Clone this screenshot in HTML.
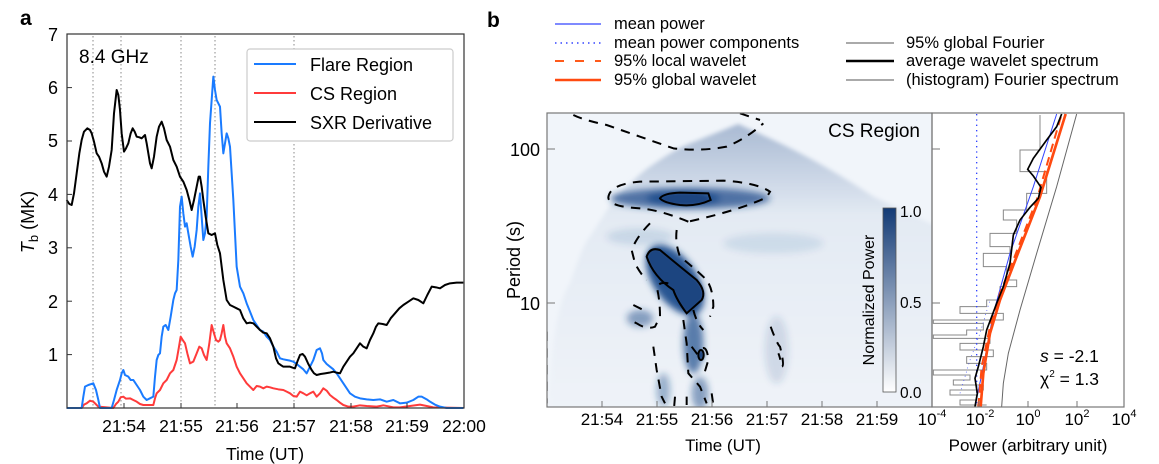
<!DOCTYPE html>
<html><head><meta charset="utf-8"><style>
body{margin:0;background:#fff}
svg{display:block;font-family:"Liberation Sans",Arial,sans-serif}
</style></head><body>
<svg width="1159" height="464" viewBox="0 0 1159 464" xmlns="http://www.w3.org/2000/svg">
<defs>
<filter id="bl" x="-50%" y="-50%" width="200%" height="200%"><feGaussianBlur stdDeviation="10"/></filter>
<filter id="bl2" x="-50%" y="-50%" width="200%" height="200%"><feGaussianBlur stdDeviation="4"/></filter>
<filter id="bl3" x="-20%" y="-20%" width="140%" height="140%"><feGaussianBlur stdDeviation="6"/></filter>
<linearGradient id="cb" x1="0" y1="0" x2="0" y2="1"><stop offset="0" stop-color="#123a75"/><stop offset="1" stop-color="#ffffff"/></linearGradient>
<linearGradient id="cone" x1="0" y1="0" x2="0" y2="1"><stop offset="0" stop-color="#a9bad3"/><stop offset="0.3" stop-color="#e3eaf3"/><stop offset="1" stop-color="#f0f4f9"/></linearGradient>
<clipPath id="wc"><rect x="547" y="113" width="385" height="294"/></clipPath>
<clipPath id="pc"><rect x="932" y="113" width="192" height="294"/></clipPath>
</defs>

<!-- ============ Panel a ============ -->
<text x="20" y="25" font-size="21" font-weight="bold">a</text>
<g stroke="#888" stroke-width="1" stroke-dasharray="1.5,2.5">
<line x1="93" y1="36" x2="93" y2="408"/><line x1="121" y1="36" x2="121" y2="408"/>
<line x1="181" y1="36" x2="181" y2="408"/><line x1="215" y1="36" x2="215" y2="408"/>
<line x1="294" y1="36" x2="294" y2="408"/>
</g>
<g transform="scale(0.33333)" fill="none" stroke-width="6" stroke-linejoin="round">
<polyline stroke="#ff3b3b" points="200,1224 245,1224 252,1214 260,1210 270,1202 280,1205 287,1212 295,1220 340,1224 348,1212 355,1205 362,1192 370,1190 378,1196 390,1195 400,1200 410,1205 420,1212 430,1215 460,1215 465,1195 470,1180 480,1170 490,1150 500,1140 510,1120 520,1110 530,1080 537,1040 542,1010 548,1020 555,1030 562,1060 570,1090 580,1085 590,1060 598,1040 605,1045 612,1065 620,1080 628,1030 635,975 642,1000 648,1020 655,1025 660,1020 665,1000 670,975 675,1010 680,1030 690,1045 700,1070 710,1100 720,1120 730,1135 740,1150 750,1160 760,1170 770,1158 780,1160 790,1165 800,1160 810,1162 820,1165 835,1168 850,1170 860,1175 870,1180 880,1188 890,1190 900,1175 910,1180 920,1186 930,1180 940,1175 950,1190 960,1180 970,1165 980,1172 990,1185 1000,1193 1010,1200 1020,1208 1030,1215 1045,1220 1060,1220 1080,1216 1100,1218 1130,1220 1150,1216 1180,1222 1200,1222 1230,1218 1260,1214 1280,1218 1300,1222 1390,1224"/>
<polyline stroke="#1a7bff" points="200,1224 245,1224 250,1190 255,1160 265,1155 280,1150 288,1170 295,1200 300,1224 335,1224 342,1200 350,1170 360,1140 365,1120 370,1110 375,1125 385,1130 392,1140 400,1140 410,1155 420,1170 430,1190 440,1200 450,1195 460,1190 465,1130 470,1080 475,1065 480,1060 485,1010 490,980 497,975 505,990 512,950 520,900 525,880 530,870 535,780 540,620 545,590 550,640 555,680 560,670 565,700 572,740 578,770 584,740 590,690 595,620 600,580 605,650 610,720 615,700 620,650 625,500 630,370 635,300 640,230 645,270 650,300 655,310 660,320 665,400 670,460 675,430 680,400 685,415 690,440 695,520 700,600 705,700 710,800 715,830 720,860 730,880 740,910 750,935 760,960 770,975 780,990 790,995 800,1010 810,1020 820,1040 830,1055 840,1075 850,1078 860,1080 870,1082 880,1085 890,1092 900,1100 910,1108 920,1120 930,1100 940,1080 950,1050 960,1045 966,1060 970,1080 980,1092 990,1100 1000,1108 1010,1120 1020,1135 1030,1150 1040,1165 1050,1180 1065,1190 1080,1195 1100,1198 1120,1200 1140,1198 1160,1205 1180,1200 1200,1210 1220,1208 1240,1200 1255,1190 1265,1190 1280,1198 1290,1205 1305,1214 1320,1220 1340,1224 1390,1224"/>
<polyline stroke="#000" points="200,600 208,612 215,615 222,580 230,520 238,460 245,420 252,395 262,385 270,390 275,400 282,425 290,460 297,470 305,490 312,515 320,530 327,500 335,450 342,340 350,270 355,285 360,330 365,400 372,455 378,445 385,430 392,400 398,385 404,395 410,410 418,412 425,415 430,410 435,405 440,430 445,460 450,490 455,505 462,470 470,410 477,380 485,365 492,385 500,420 510,440 520,480 530,500 540,530 550,545 560,570 568,600 575,630 582,600 590,560 596,530 600,530 605,560 610,600 617,650 625,700 635,705 645,700 652,735 660,760 670,840 680,900 690,915 700,920 710,925 720,930 730,955 740,970 750,968 760,970 770,980 780,990 790,998 800,1000 810,1015 820,1040 828,1075 835,1090 842,1095 850,1100 860,1100 870,1100 878,1103 885,1105 892,1085 900,1065 908,1062 915,1070 925,1092 935,1110 942,1120 950,1125 962,1122 975,1120 988,1118 1000,1115 1010,1118 1020,1120 1030,1100 1040,1085 1050,1070 1060,1060 1070,1045 1080,1030 1090,1040 1100,1045 1110,1020 1120,1000 1128,980 1135,970 1148,972 1160,975 1172,955 1185,940 1198,925 1210,915 1225,905 1240,895 1255,900 1270,910 1282,885 1295,860 1308,862 1320,865 1335,855 1350,850 1370,848 1390,848"/>
</g>
<rect x="67" y="34" width="397" height="374" fill="none" stroke="#333" stroke-width="1.2"/>
<g stroke="#333" stroke-width="1">
<line x1="67" y1="354.6" x2="72" y2="354.6"/><line x1="67" y1="301.2" x2="72" y2="301.2"/><line x1="67" y1="247.8" x2="72" y2="247.8"/><line x1="67" y1="194.4" x2="72" y2="194.4"/><line x1="67" y1="141" x2="72" y2="141"/><line x1="67" y1="87.6" x2="72" y2="87.6"/>
<line x1="124" y1="408" x2="124" y2="403"/><line x1="181" y1="408" x2="181" y2="403"/><line x1="237" y1="408" x2="237" y2="403"/><line x1="294" y1="408" x2="294" y2="403"/><line x1="351" y1="408" x2="351" y2="403"/><line x1="407" y1="408" x2="407" y2="403"/>
</g>
<g font-size="18" text-anchor="end">
<text x="58" y="361">1</text><text x="58" y="308">2</text><text x="58" y="254">3</text><text x="58" y="201">4</text><text x="58" y="147">5</text><text x="58" y="94">6</text><text x="58" y="41">7</text>
</g>
<g font-size="17.5" text-anchor="middle">
<text x="124" y="432">21:54</text><text x="181" y="432">21:55</text><text x="237" y="432">21:56</text><text x="294" y="432">21:57</text><text x="351" y="432">21:58</text><text x="407" y="432">21:59</text><text x="464" y="432">22:00</text>
<text x="265" y="460">Time (UT)</text>
</g>
<text transform="translate(34,222) rotate(-90)" font-size="18" text-anchor="middle"><tspan font-style="italic">T</tspan><tspan font-size="13" dy="4">b</tspan><tspan dy="-4"> (MK)</tspan></text>
<text x="79" y="63" font-size="19">8.4 GHz</text>
<rect x="247" y="49" width="206" height="92" rx="3" fill="#fff" stroke="#ccc" stroke-width="1.2"/>
<line x1="254" y1="64" x2="296" y2="64" stroke="#1a7bff" stroke-width="2"/>
<line x1="254" y1="93" x2="296" y2="93" stroke="#ff3b3b" stroke-width="2"/>
<line x1="254" y1="122" x2="296" y2="122" stroke="#000" stroke-width="2"/>
<g font-size="18"><text x="310" y="71">Flare Region</text><text x="310" y="100">CS Region</text><text x="310" y="129">SXR Derivative</text></g>

<!-- ============ Panel b ============ -->
<text x="487" y="27" font-size="21" font-weight="bold">b</text>
<g font-size="16.5">
<line x1="555" y1="24" x2="601" y2="24" stroke="#3344ff" stroke-width="1.3"/><text x="614" y="29">mean power</text>
<line x1="555" y1="43" x2="601" y2="43" stroke="#3344ff" stroke-width="1.5" stroke-dasharray="1.5,4"/><text x="614" y="48">mean power components</text>
<line x1="555" y1="61" x2="601" y2="61" stroke="#ff5a1a" stroke-width="2" stroke-dasharray="9,11"/><text x="614" y="66">95% local wavelet</text>
<line x1="555" y1="80" x2="601" y2="80" stroke="#ff4a10" stroke-width="2.5"/><text x="614" y="85">95% global wavelet</text>
<line x1="846" y1="43" x2="894" y2="43" stroke="#777" stroke-width="1.3"/><text x="906" y="48">95% global Fourier</text>
<line x1="846" y1="61" x2="894" y2="61" stroke="#000" stroke-width="2.5"/><text x="906" y="66">average wavelet spectrum</text>
<line x1="846" y1="80" x2="894" y2="80" stroke="#777" stroke-width="1.3"/><text x="906" y="85">(histogram) Fourier spectrum</text>
</g>

<!-- wavelet -->
<rect x="547" y="113" width="385" height="294" fill="#f1f5fa"/>
<g clip-path="url(#wc)">
<g transform="translate(540,110) scale(0.33333)">
<path filter="url(#bl3)" d="M20,950 L40,700 Q60,560 90,520 Q130,400 150,380 Q200,300 230,260 Q300,190 330,170 Q400,120 450,100 L595,42 L700,90 Q850,160 1000,260 L1300,400 L1300,950 Z" fill="url(#cone)"/>
<g filter="url(#bl)" fill="#1f4d8c">
<ellipse cx="450" cy="265" rx="240" ry="32" opacity="0.75"/>
<ellipse cx="430" cy="265" rx="110" ry="22" opacity="0.9"/>
<ellipse cx="405" cy="510" rx="65" ry="120" transform="rotate(-35 405 510)" opacity="0.95"/>
<ellipse cx="300" cy="625" rx="40" ry="25" opacity="0.5"/>
<ellipse cx="460" cy="700" rx="30" ry="90" opacity="0.7"/>
<ellipse cx="480" cy="850" rx="25" ry="50" opacity="0.5"/>
<ellipse cx="370" cy="840" rx="20" ry="50" opacity="0.4"/>
<ellipse cx="300" cy="380" rx="100" ry="25" opacity="0.12"/>
<ellipse cx="700" cy="400" rx="150" ry="30" opacity="0.1"/>
<ellipse cx="710" cy="720" rx="35" ry="100" opacity="0.15"/>
</g>
<g filter="url(#bl2)" fill="#1a4480">
<ellipse cx="435" cy="267" rx="70" ry="17"/>
<path d="M320,440 Q330,410 360,420 Q420,470 470,510 Q500,545 485,570 L440,610 Q410,570 400,540 Q340,500 320,440Z"/>
<ellipse cx="483" cy="735" rx="9" ry="15"/>
</g>
<g fill="none" stroke="#000" stroke-width="6" stroke-dasharray="28,22">
<path d="M100,15 Q130,30 200,45 L300,80 L400,115 Q480,125 560,110 Q620,85 670,40"/>
<path d="M600,10 L660,30"/>
<path d="M445,335 Q360,300 300,295 Q205,290 205,262 Q210,222 300,215 L550,212 Q650,218 690,245 L680,262 Q600,300 445,335"/>
<path d="M330,340 Q290,380 275,420 L285,460 Q300,490 320,510"/>
<path d="M410,360 Q405,400 420,440 Q470,480 500,510 Q520,540 520,590 L510,620"/>
<path d="M385,520 Q360,515 350,530 Q360,570 360,620 L345,650 Q320,660 290,640 L270,630"/>
<path d="M280,585 L310,600"/>
<path d="M460,600 Q470,640 490,660"/>
<path d="M430,630 L440,700 L445,790 L480,830 L500,880"/>
<path d="M340,710 L350,780 L365,860 L375,880"/>
<path d="M455,710 L470,730 Q500,690 505,750 L490,800"/>
<path d="M405,860 L402,895 M440,860 L440,885 M515,850 L520,885"/>
<path d="M692,650 Q710,700 720,710 Q735,770 725,770 Q720,740 715,730"/>
<path d="M20,665 L20,880"/>
</g>
<g fill="none" stroke="#000" stroke-width="6">
<path d="M360,265 Q370,250 420,248 L505,250 L512,270 Q470,290 420,285 Q370,278 360,265Z"/>
<path d="M320,440 Q330,410 360,420 Q420,470 470,510 Q500,545 485,570 L440,610 Q410,570 400,540 Q340,500 320,440Z"/>
<ellipse cx="483" cy="735" rx="8" ry="15"/>
</g>
</g>
</g>
<rect x="547" y="113" width="385" height="294" fill="none" stroke="#777" stroke-width="1.2"/>
<g stroke="#777" stroke-width="1">
<line x1="602" y1="407" x2="602" y2="401"/><line x1="657" y1="407" x2="657" y2="401"/><line x1="712" y1="407" x2="712" y2="401"/><line x1="767" y1="407" x2="767" y2="401"/><line x1="822" y1="407" x2="822" y2="401"/><line x1="877" y1="407" x2="877" y2="401"/>
<line x1="547" y1="149" x2="555" y2="149"/><line x1="547" y1="303" x2="555" y2="303"/>
<line x1="932" y1="149" x2="940" y2="149"/><line x1="932" y1="303" x2="940" y2="303"/>
</g>
<text x="920" y="137" font-size="19" text-anchor="end">CS Region</text>
<rect x="883" y="208" width="13" height="184" fill="url(#cb)" stroke="#555" stroke-width="0.8"/>
<g font-size="15.5"><text x="900" y="217">1.0</text><text x="900" y="308">0.5</text><text x="900" y="398">0.0</text></g>
<text transform="translate(874,300) rotate(-90)" font-size="16" text-anchor="middle">Normalized Power</text>
<g font-size="18" text-anchor="end"><text x="540" y="156">100</text><text x="540" y="310">10</text></g>
<text transform="translate(520,260) rotate(-90)" font-size="18" text-anchor="middle">Period (s)</text>
<g font-size="17" text-anchor="middle">
<text x="602" y="425">21:54</text><text x="657" y="425">21:55</text><text x="712" y="425">21:56</text><text x="767" y="425">21:57</text><text x="822" y="425">21:58</text><text x="877" y="425">21:59</text>
<text x="723" y="451">Time (UT)</text>
</g>

<!-- power panel -->
<g clip-path="url(#pc)">
<g transform="translate(860,100) scale(0.33333)" fill="none">
<path stroke="#888" stroke-width="3" d="M540,45 L540,150 L480,150 L480,215 L560,215 L560,280 L500,280 L500,330 L430,330 L430,360 L470,360 L470,400 L390,400 L390,440 L450,440 L450,460 L370,460 L370,500 L440,500 L440,540 L470,540 L470,560 L420,560 L420,600 L380,600 L380,620 L300,620 L300,640 L430,640 L430,660 L220,660 L220,670 L370,670 L370,690 L320,690 L320,705 L220,705 L220,715 L390,715 L390,730 L300,730 L300,750 L400,750 L400,770 L320,770 L320,790 L380,790 L380,810 L220,810 L220,825 L330,825 L330,840 L280,840 L280,855 L370,855 L370,870 L270,870 L270,885 L350,885 L350,900 L300,900 L300,915 L380,915"/>
<line x1="350" y1="42" x2="350" y2="920" stroke="#3344ff" stroke-width="4" stroke-dasharray="4,12"/>
<path stroke="#3344ff" stroke-width="2" stroke-dasharray="3,10" d="M300,880 L330,780 L360,700 L390,600"/>
<path stroke="#666" stroke-width="3" d="M425,920 L430,850 L445,760 L480,630 L530,460 L590,260 L650,42"/>
<path stroke="#3344ff" stroke-width="3" d="M345,920 L370,800 L400,640 L450,460 L520,260 L590,42"/>
<path stroke="#ff4a10" stroke-width="6" stroke-dasharray="26,16" d="M355,920 L365,800 L390,680 L420,580 L460,480 L530,300 L605,42"/>
<path stroke="#ff4a10" stroke-width="8" d="M362,920 L370,820 L390,700 L420,600 L470,470 L540,290 L617,42"/>
<path stroke="#000" stroke-width="5" d="M345,920 L352,880 L345,835 L355,800 L370,740 L380,690 L395,650 L410,610 L430,560 L450,490 L460,405 L480,360 L510,322 L535,295 L543,262 L520,228 L503,208 L520,175 L560,120 L590,80 L605,42"/>
</g>
</g>
<rect x="932" y="113" width="192" height="294" fill="none" stroke="#777" stroke-width="1.2"/>
<g stroke="#777" stroke-width="1">
<line x1="979" y1="407" x2="979" y2="401"/><line x1="1028" y1="407" x2="1028" y2="401"/><line x1="1077" y1="407" x2="1077" y2="401"/>
</g>
<g font-size="17" text-anchor="middle">
<text x="932" y="425">10<tspan font-size="11" dy="-8">-4</tspan></text>
<text x="980" y="425">10<tspan font-size="11" dy="-8">-2</tspan></text>
<text x="1028" y="425">10<tspan font-size="11" dy="-8">0</tspan></text>
<text x="1077" y="425">10<tspan font-size="11" dy="-8">2</tspan></text>
<text x="1124" y="425">10<tspan font-size="11" dy="-8">4</tspan></text>
<text x="1028" y="451">Power (arbitrary unit)</text>
</g>
<g font-size="17.5">
<text x="1040" y="362"><tspan font-style="italic">s</tspan> = -2.1</text>
<text x="1040" y="385">χ<tspan font-size="10" dy="-8">2</tspan><tspan dy="8"> = 1.3</tspan></text>
</g>
</svg>
</body></html>
